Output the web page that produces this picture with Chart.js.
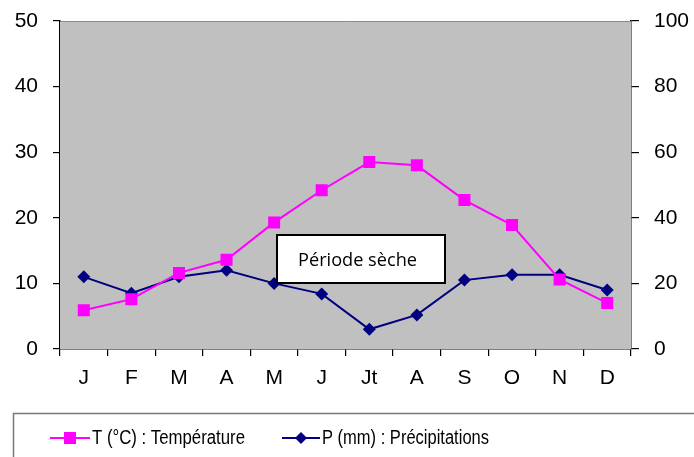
<!DOCTYPE html>
<html>
<head>
<meta charset="utf-8">
<script src="https://cdn.jsdelivr.net/npm/chart.js@4/dist/chart.umd.min.js"></script>
<style>
  body { margin: 0; background: #fff; }
  #wrap { width: 694px; height: 457px; position: relative; }
</style>
</head>
<body>
<div id="wrap"><canvas id="climChart"></canvas></div>
<script>
const months = ["J", "F", "M", "A", "M", "J", "Jt", "A", "S", "O", "N", "D"];
const temperature = [5.9, 7.6, 11.6, 13.6, 19.3, 24.2, 28.5, 28.0, 22.7, 18.9, 10.6, 7.0];
const precipitation = [22, 17, 22, 24, 20, 16.8, 6, 10.4, 21, 22.6, 22.6, 18];
const tempTicks = [0, 10, 20, 30, 40, 50];
const precTicks = [0, 20, 40, 60, 80, 100];
const tempLabel = "T (°C) : Température";
const precLabel = "P (mm) : Précipitations";
const noteText = "Période sèche";

const pink = "#FF00FF";
const navy = "#000080";
const tickFont = { family: "'Liberation Sans', Arial, sans-serif", size: 21 };

// draw text squeezed to a given width (the legend font is narrow)
function squeezed(ctx, text, x, y, w) {
    const real = ctx.measureText(text).width;
    ctx.save();
    ctx.translate(x, y);
    ctx.scale(Math.min(1, w / real), 1);
    ctx.fillText(text, 0, 0);
    ctx.restore();
}

// grey plot background, dry-period label and bottom legend
const decor = {
    id: "decor",
    beforeDatasetsDraw(chart) {
        const a = chart.chartArea;
        const ctx = chart.ctx;
        ctx.save();
        ctx.fillStyle = "#C0C0C0";
        ctx.fillRect(a.left, a.top, a.right - a.left, a.bottom - a.top);
        ctx.strokeStyle = "#8a8a8a";
        ctx.lineWidth = 1;
        ctx.beginPath();
        ctx.moveTo(a.left, a.top + 0.5);
        ctx.lineTo(a.right, a.top + 0.5);
        ctx.stroke();
        ctx.restore();
    },
    afterDraw(chart) {
        const ctx = chart.ctx;
        ctx.save();
        // dry period box
        ctx.fillStyle = "#fff";
        ctx.fillRect(277, 235, 168, 48);
        ctx.strokeStyle = "#000";
        ctx.lineWidth = 2;
        ctx.strokeRect(277, 235, 168, 48);
        ctx.fillStyle = "#000";
        ctx.font = "19px 'Open Sans', 'Noto Sans', sans-serif";
        ctx.textAlign = "left";
        ctx.textBaseline = "middle";
        squeezed(ctx, noteText, 298, 261, 119);

        // legend box
        ctx.strokeStyle = "#777";
        ctx.lineWidth = 1.5;
        ctx.strokeRect(13.5, 413.5, 700, 60);
        const ly = 438;
        ctx.lineWidth = 2;
        ctx.strokeStyle = pink;
        ctx.beginPath(); ctx.moveTo(50, ly); ctx.lineTo(90, ly); ctx.stroke();
        ctx.fillStyle = pink;
        ctx.fillRect(64, ly - 6, 12, 12);
        ctx.strokeStyle = navy;
        ctx.beginPath(); ctx.moveTo(282, ly); ctx.lineTo(320, ly); ctx.stroke();
        ctx.fillStyle = navy;
        ctx.beginPath();
        ctx.moveTo(301, ly - 6); ctx.lineTo(307, ly); ctx.lineTo(301, ly + 6); ctx.lineTo(295, ly);
        ctx.closePath(); ctx.fill();
        ctx.fillStyle = "#000";
        ctx.font = "20px 'Liberation Sans', Arial, sans-serif";
        squeezed(ctx, tempLabel, 92, ly, 153);
        squeezed(ctx, precLabel, 322, ly, 167);
        ctx.restore();
    }
};

function fixY(width) {
    return function (s) {
        s.width = width;
        s.paddingTop = 0;
        s.paddingBottom = 0;
    };
}

new Chart(document.getElementById("climChart"), {
    type: "line",
    data: {
        labels: months,
        datasets: [
            {
                label: tempLabel,
                data: temperature,
                yAxisID: "y",
                borderColor: pink,
                backgroundColor: pink,
                borderWidth: 2,
                pointStyle: "rect",
                pointRadius: 8.5,
                pointBorderWidth: 0,
                tension: 0
            },
            {
                label: precLabel,
                data: precipitation,
                yAxisID: "y2",
                borderColor: navy,
                backgroundColor: navy,
                borderWidth: 2,
                pointStyle: "rectRot",
                pointRadius: 6.5,
                pointBorderWidth: 0,
                tension: 0
            }
        ]
    },
    options: {
        responsive: true,
        maintainAspectRatio: false,
        animation: false,
        layout: { padding: { top: 21 } },
        plugins: {
            legend: { display: false },
            tooltip: { enabled: false }
        },
        scales: {
            x: {
                offset: true,
                grid: { offset: true, drawOnChartArea: false, color: "#000", tickLength: 7, lineWidth: 1.2 },
                border: { color: "#000", width: 1.5 },
                ticks: { color: "#000", font: tickFont, padding: 10, maxRotation: 0 },
                afterFit(s) { s.height = 108; }
            },
            y: {
                position: "left",
                min: 0, max: 50,
                afterBuildTicks(s) { s.ticks = tempTicks.map(v => ({ value: v })); },
                grid: { drawOnChartArea: false, color: "#000", tickLength: 7, lineWidth: 1.2 },
                border: { color: "#000", width: 1.5 },
                ticks: { color: "#000", font: tickFont, padding: 15 },
                afterFit: fixY(60)
            },
            y2: {
                position: "right",
                min: 0, max: 100,
                afterBuildTicks(s) { s.ticks = precTicks.map(v => ({ value: v })); },
                grid: { drawOnChartArea: false, color: "#000", tickLength: 8, lineWidth: 1.2 },
                border: { color: "#000", width: 1.5 },
                ticks: { color: "#000", font: tickFont, padding: 15 },
                afterFit: fixY(63)
            }
        }
    },
    plugins: [decor]
});
</script>
</body>
</html>
